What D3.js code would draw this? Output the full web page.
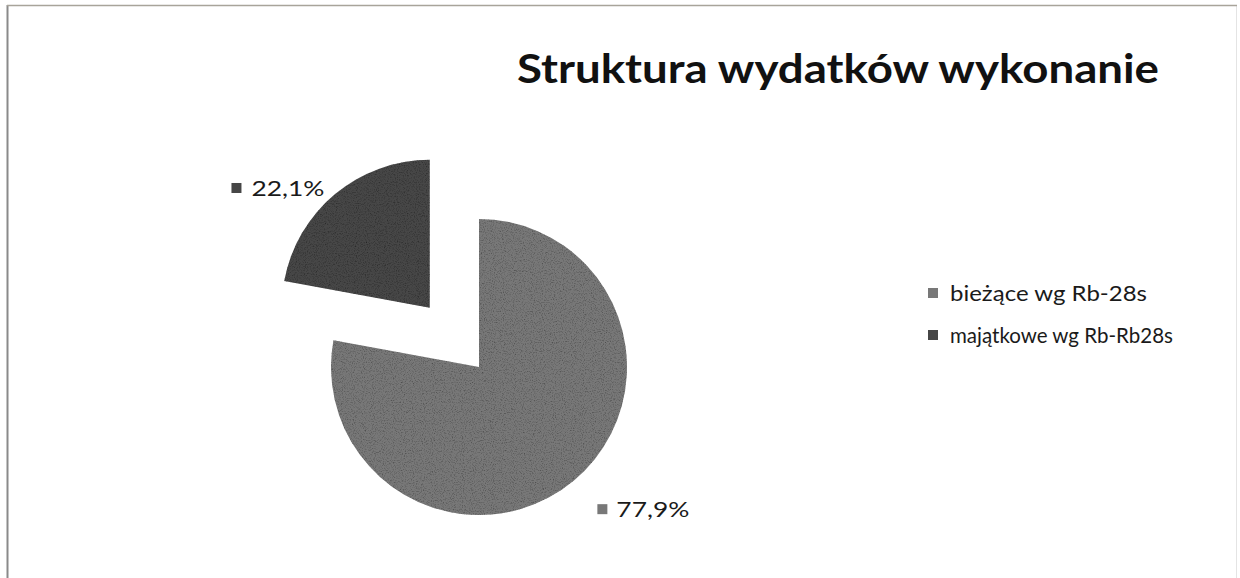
<!DOCTYPE html>
<html>
<head>
<meta charset="utf-8">
<script src="https://cdn.jsdelivr.net/npm/d3@7"></script>
<style>
  html, body { margin: 0; padding: 0; background: #fff; }
  svg { display: block; }
</style>
</head>
<body>
<svg id="chart" width="1240" height="578"></svg>
<script>
// ---- data ----
const title = "Struktura wydatków wykonanie";
const categories = ["bieżące wg Rb-28s", "majątkowe wg Rb-Rb28s"];
const values = [77.9, 22.1];
const valueLabels = ["77,9%", "22,1%"];
const exploded = [false, true];
const colors = ["#787878", "#464646"];

const svg = d3.select("#chart");
const W = 1240, H = 578;

// noise texture filter to mimic scanned print
const defs = svg.append("defs");
const f = defs.append("filter").attr("id", "grain").attr("x", 0).attr("y", 0).attr("width", 1).attr("height", 1);
f.append("feTurbulence").attr("type", "fractalNoise").attr("baseFrequency", 0.9).attr("numOctaves", 2).attr("seed", 3).attr("result", "n");
f.append("feColorMatrix").attr("in", "n").attr("type", "matrix")
  .attr("values", "0 0 0 0 0  0 0 0 0 0  0 0 0 0 0  0 0 0 -1.4 0.75").attr("result", "na");
f.append("feComposite").attr("in", "na").attr("in2", "SourceGraphic").attr("operator", "in").attr("result", "nm");
f.append("feMerge").call(m => { m.append("feMergeNode").attr("in", "SourceGraphic"); m.append("feMergeNode").attr("in", "nm"); });

// frame
svg.append("rect").attr("x", 7.5).attr("y", 5.5).attr("width", 1229).attr("height", 600)
  .attr("fill", "#fff").attr("stroke", "#e4e4e4").attr("stroke-width", 1);
svg.append("line").attr("x1", 7.5).attr("x2", 7.5).attr("y1", 5).attr("y2", H)
  .attr("stroke", "#8a8a8a").attr("stroke-width", 2);
svg.append("line").attr("x1", 7).attr("x2", 1237).attr("y1", 5.5).attr("y2", 5.5)
  .attr("stroke", "#a8a49a").attr("stroke-width", 1.5);

// title
svg.append("text")
  .attr("x", 517).attr("y", 83)
  .attr("font-family", "Lato, 'Open Sans', sans-serif")
  .attr("font-weight", "bold").attr("font-size", 41)
  .attr("textLength", 642).attr("lengthAdjust", "spacingAndGlyphs")
  .attr("fill", "#111").text(title);

// pie
const cx = 479, cy = 367, r = 148, explodeDist = 77;
const pie = d3.pie().sort(null).value(d => d)(values);
const arc = d3.arc().innerRadius(0).outerRadius(r);

const g = svg.append("g").attr("transform", `translate(${cx},${cy})`);
function offset(d, i) {
  if (!exploded[i]) return [0, 0];
  const a = (d.startAngle + d.endAngle) / 2;
  return [Math.sin(a) * explodeDist, -Math.cos(a) * explodeDist];
}
g.selectAll("path.slice").data(pie).join("path")
  .attr("class", "slice")
  .attr("transform", (d, i) => { const o = offset(d, i); return `translate(${o[0]},${o[1]})`; })
  .attr("d", arc)
  .attr("fill", (d, i) => colors[i])
  .attr("filter", "url(#grain)");

// data labels
const labelFont = "Lato, 'Open Sans', sans-serif";
const labelFontSize = 22;
const labelTextWidth = 73;
pie.forEach((d, i) => {
  const o = offset(d, i);
  const a = (d.startAngle + d.endAngle) / 2;
  const right = Math.sin(a) >= 0;
  const rr = r * (right ? 1.25 : 1.08);
  const px = o[0] + Math.sin(a) * rr + (right ? 0 : -3);
  const py = o[1] - Math.cos(a) * rr + (right ? 0 : 3);
  const lg = g.append("g").attr("transform", `translate(${px},${py})`);
  const t = lg.append("text")
    .attr("font-family", labelFont).attr("font-size", labelFontSize).attr("fill", "#1a1a1a")
    .attr("dy", "0.36em")
    .attr("textLength", labelTextWidth).attr("lengthAdjust", "spacingAndGlyphs")
    .text(valueLabels[i]);
  if (right) {
    lg.append("rect").attr("x", 0).attr("y", -5).attr("width", 10).attr("height", 10).attr("fill", colors[i]);
    t.attr("x", 19);
  } else {
    t.attr("text-anchor", "end").attr("x", 0);
    lg.append("rect").attr("x", -labelTextWidth - 20).attr("y", -5).attr("width", 10).attr("height", 10).attr("fill", colors[i]);
  }
});

// legend
const legend = svg.append("g").attr("transform", "translate(928,293)");
const legendWidths = [197, 223];
categories.forEach((c, i) => {
  const row = legend.append("g").attr("transform", `translate(0,${i * 42})`);
  row.append("rect").attr("x", 0).attr("y", -5).attr("width", 10).attr("height", 10).attr("fill", colors[i]);
  row.append("text").attr("x", 22).attr("dy", "0.36em")
    .attr("font-family", labelFont).attr("font-size", 22).attr("fill", "#1a1a1a")
    .attr("textLength", legendWidths[i]).attr("lengthAdjust", "spacingAndGlyphs")
    .text(c);
});
</script>
</body>
</html>
